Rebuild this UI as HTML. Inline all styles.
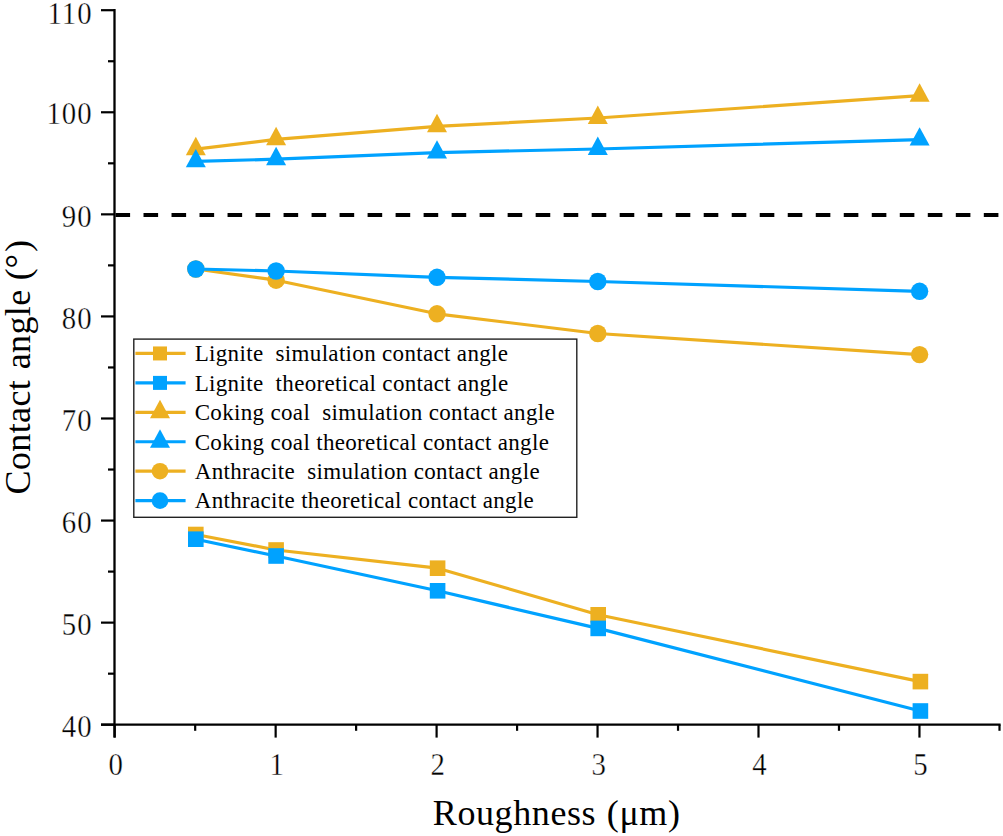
<!DOCTYPE html>
<html><head><meta charset="utf-8"><style>
html,body{margin:0;padding:0;background:#fff;}
svg{display:block;}
text{font-family:"Liberation Serif",serif;fill:#000;}
.tk{font-size:31px;letter-spacing:1.0px;stroke:#fff;stroke-width:0.35px;}
.lg{font-size:23px;letter-spacing:0.33px;}
.ti{font-size:36px;letter-spacing:0.6px;word-spacing:1px;}
.ty{font-size:36px;letter-spacing:0.4px;word-spacing:1px;}
</style></head><body>
<svg width="1003" height="836" viewBox="0 0 1003 836">
<rect width="1003" height="836" fill="#fff"/>
<line x1="114.50" y1="215.0" x2="1000.5" y2="215.0" stroke="#000" stroke-width="3.9" stroke-dasharray="14.6 13.41" stroke-dashoffset="-1.0"/>
<line x1="114.5" y1="9.0" x2="114.5" y2="737.6" stroke="#000" stroke-width="2.3"/>
<line x1="101" y1="724.7" x2="1000.6" y2="724.7" stroke="#000" stroke-width="2.3"/>
<line x1="101.0" y1="724.70" x2="114.5" y2="724.70" stroke="#000" stroke-width="2.2"/>
<line x1="108.0" y1="673.67" x2="114.5" y2="673.67" stroke="#000" stroke-width="2.2"/>
<line x1="101.0" y1="622.63" x2="114.5" y2="622.63" stroke="#000" stroke-width="2.2"/>
<line x1="108.0" y1="571.60" x2="114.5" y2="571.60" stroke="#000" stroke-width="2.2"/>
<line x1="101.0" y1="520.56" x2="114.5" y2="520.56" stroke="#000" stroke-width="2.2"/>
<line x1="108.0" y1="469.53" x2="114.5" y2="469.53" stroke="#000" stroke-width="2.2"/>
<line x1="101.0" y1="418.49" x2="114.5" y2="418.49" stroke="#000" stroke-width="2.2"/>
<line x1="108.0" y1="367.46" x2="114.5" y2="367.46" stroke="#000" stroke-width="2.2"/>
<line x1="101.0" y1="316.42" x2="114.5" y2="316.42" stroke="#000" stroke-width="2.2"/>
<line x1="108.0" y1="265.38" x2="114.5" y2="265.38" stroke="#000" stroke-width="2.2"/>
<line x1="101.0" y1="214.35" x2="114.5" y2="214.35" stroke="#000" stroke-width="2.2"/>
<line x1="108.0" y1="163.32" x2="114.5" y2="163.32" stroke="#000" stroke-width="2.2"/>
<line x1="101.0" y1="112.28" x2="114.5" y2="112.28" stroke="#000" stroke-width="2.2"/>
<line x1="108.0" y1="61.25" x2="114.5" y2="61.25" stroke="#000" stroke-width="2.2"/>
<line x1="101.0" y1="10.20" x2="114.5" y2="10.20" stroke="#000" stroke-width="2.2"/>
<line x1="114.70" y1="724.7" x2="114.70" y2="737.6" stroke="#000" stroke-width="2.2"/>
<line x1="195.18" y1="724.7" x2="195.18" y2="730.8" stroke="#000" stroke-width="2.2"/>
<line x1="275.65" y1="724.7" x2="275.65" y2="737.6" stroke="#000" stroke-width="2.2"/>
<line x1="356.12" y1="724.7" x2="356.12" y2="730.8" stroke="#000" stroke-width="2.2"/>
<line x1="436.60" y1="724.7" x2="436.60" y2="737.6" stroke="#000" stroke-width="2.2"/>
<line x1="517.08" y1="724.7" x2="517.08" y2="730.8" stroke="#000" stroke-width="2.2"/>
<line x1="597.55" y1="724.7" x2="597.55" y2="737.6" stroke="#000" stroke-width="2.2"/>
<line x1="678.02" y1="724.7" x2="678.02" y2="730.8" stroke="#000" stroke-width="2.2"/>
<line x1="758.50" y1="724.7" x2="758.50" y2="737.6" stroke="#000" stroke-width="2.2"/>
<line x1="838.98" y1="724.7" x2="838.98" y2="730.8" stroke="#000" stroke-width="2.2"/>
<line x1="919.45" y1="724.7" x2="919.45" y2="737.6" stroke="#000" stroke-width="2.2"/>
<line x1="999.50" y1="724.7" x2="999.50" y2="730.8" stroke="#000" stroke-width="2.2"/>
<polyline points="195.80,534.50 276.10,550.00 437.60,568.20 598.20,614.80 920.40,681.60" fill="none" stroke="#EDB021" stroke-width="3.2" stroke-linejoin="round"/>
<rect x="188.00" y="526.70" width="15.60" height="15.60" fill="#EDB021"/>
<rect x="268.30" y="542.20" width="15.60" height="15.60" fill="#EDB021"/>
<rect x="429.80" y="560.40" width="15.60" height="15.60" fill="#EDB021"/>
<rect x="590.40" y="607.00" width="15.60" height="15.60" fill="#EDB021"/>
<rect x="912.60" y="673.80" width="15.60" height="15.60" fill="#EDB021"/>
<polyline points="195.80,539.20 276.10,556.00 437.60,590.80 598.20,628.40 920.40,711.00" fill="none" stroke="#00A2FF" stroke-width="3.2" stroke-linejoin="round"/>
<rect x="188.00" y="531.40" width="15.60" height="15.60" fill="#00A2FF"/>
<rect x="268.30" y="548.20" width="15.60" height="15.60" fill="#00A2FF"/>
<rect x="429.80" y="583.00" width="15.60" height="15.60" fill="#00A2FF"/>
<rect x="590.40" y="620.60" width="15.60" height="15.60" fill="#00A2FF"/>
<rect x="912.60" y="703.20" width="15.60" height="15.60" fill="#00A2FF"/>
<polyline points="195.80,149.20 276.10,139.30 437.00,126.30 597.80,118.00 919.60,95.70" fill="none" stroke="#EDB021" stroke-width="3.2" stroke-linejoin="round"/>
<polygon points="195.80,136.73 185.80,155.13 205.80,155.13" fill="#EDB021"/>
<polygon points="276.10,126.83 266.10,145.23 286.10,145.23" fill="#EDB021"/>
<polygon points="437.00,113.83 427.00,132.23 447.00,132.23" fill="#EDB021"/>
<polygon points="597.80,105.53 587.80,123.93 607.80,123.93" fill="#EDB021"/>
<polygon points="919.60,83.23 909.60,101.63 929.60,101.63" fill="#EDB021"/>
<polyline points="195.80,161.40 276.10,159.20 437.00,152.60 597.80,149.00 919.60,139.60" fill="none" stroke="#00A2FF" stroke-width="3.2" stroke-linejoin="round"/>
<polygon points="195.80,148.93 185.80,167.33 205.80,167.33" fill="#00A2FF"/>
<polygon points="276.10,146.73 266.10,165.13 286.10,165.13" fill="#00A2FF"/>
<polygon points="437.00,140.13 427.00,158.53 447.00,158.53" fill="#00A2FF"/>
<polygon points="597.80,136.53 587.80,154.93 607.80,154.93" fill="#00A2FF"/>
<polygon points="919.60,127.13 909.60,145.53 929.60,145.53" fill="#00A2FF"/>
<polyline points="195.80,269.00 276.10,280.20 437.00,313.80 597.80,333.50 919.60,354.60" fill="none" stroke="#EDB021" stroke-width="3.2" stroke-linejoin="round"/>
<circle cx="195.80" cy="269.00" r="8.70" fill="#EDB021"/>
<circle cx="276.10" cy="280.20" r="8.70" fill="#EDB021"/>
<circle cx="437.00" cy="313.80" r="8.70" fill="#EDB021"/>
<circle cx="597.80" cy="333.50" r="8.70" fill="#EDB021"/>
<circle cx="919.60" cy="354.60" r="8.70" fill="#EDB021"/>
<polyline points="195.80,269.00 276.10,271.00 437.00,277.30 597.80,281.50 919.60,291.30" fill="none" stroke="#00A2FF" stroke-width="3.2" stroke-linejoin="round"/>
<circle cx="195.80" cy="269.00" r="8.70" fill="#00A2FF"/>
<circle cx="276.10" cy="271.00" r="8.70" fill="#00A2FF"/>
<circle cx="437.00" cy="277.30" r="8.70" fill="#00A2FF"/>
<circle cx="597.80" cy="281.50" r="8.70" fill="#00A2FF"/>
<circle cx="919.60" cy="291.30" r="8.70" fill="#00A2FF"/>
<rect x="133.8" y="339.1" width="443.00" height="178.20" fill="#fff" stroke="#222" stroke-width="1.4"/>
<line x1="135.4" y1="353.45" x2="185.6" y2="353.45" stroke="#EDB021" stroke-width="3.2"/>
<rect x="153.00" y="346.45" width="14.00" height="14.00" fill="#EDB021"/>
<text x="194.7" y="361.20" class="lg">Lignite  simulation contact angle</text>
<line x1="135.4" y1="382.89" x2="185.6" y2="382.89" stroke="#00A2FF" stroke-width="3.2"/>
<rect x="153.00" y="375.89" width="14.00" height="14.00" fill="#00A2FF"/>
<text x="194.7" y="390.64" class="lg">Lignite  theoretical contact angle</text>
<line x1="135.4" y1="412.33" x2="185.6" y2="412.33" stroke="#EDB021" stroke-width="3.2"/>
<polygon points="160.00,399.86 150.00,418.26 170.00,418.26" fill="#EDB021"/>
<text x="194.7" y="420.08" class="lg">Coking coal  simulation contact angle</text>
<line x1="135.4" y1="441.77" x2="185.6" y2="441.77" stroke="#00A2FF" stroke-width="3.2"/>
<polygon points="160.00,429.30 150.00,447.70 170.00,447.70" fill="#00A2FF"/>
<text x="194.7" y="449.52" class="lg">Coking coal theoretical contact angle</text>
<line x1="135.4" y1="471.21" x2="185.6" y2="471.21" stroke="#EDB021" stroke-width="3.2"/>
<circle cx="160.00" cy="471.21" r="8.30" fill="#EDB021"/>
<text x="194.7" y="478.96" class="lg">Anthracite  simulation contact angle</text>
<line x1="135.4" y1="500.65" x2="185.6" y2="500.65" stroke="#00A2FF" stroke-width="3.2"/>
<circle cx="160.00" cy="500.65" r="8.30" fill="#00A2FF"/>
<text x="194.7" y="508.40" class="lg">Anthracite theoretical contact angle</text>
<text transform="translate(92.5,736.90) scale(0.93,1)" class="tk" text-anchor="end">40</text>
<text transform="translate(92.5,634.83) scale(0.93,1)" class="tk" text-anchor="end">50</text>
<text transform="translate(92.5,532.76) scale(0.93,1)" class="tk" text-anchor="end">60</text>
<text transform="translate(92.5,430.69) scale(0.93,1)" class="tk" text-anchor="end">70</text>
<text transform="translate(92.5,328.62) scale(0.93,1)" class="tk" text-anchor="end">80</text>
<text transform="translate(92.5,226.55) scale(0.93,1)" class="tk" text-anchor="end">90</text>
<text transform="translate(92.5,124.48) scale(0.93,1)" class="tk" text-anchor="end">100</text>
<text transform="translate(92.5,23.90) scale(0.93,1)" class="tk" text-anchor="end">110</text>
<text transform="translate(116.20,775.2) scale(0.93,1)" class="tk" text-anchor="middle">0</text>
<text transform="translate(277.15,775.2) scale(0.93,1)" class="tk" text-anchor="middle">1</text>
<text transform="translate(438.10,775.2) scale(0.93,1)" class="tk" text-anchor="middle">2</text>
<text transform="translate(599.05,775.2) scale(0.93,1)" class="tk" text-anchor="middle">3</text>
<text transform="translate(760.00,775.2) scale(0.93,1)" class="tk" text-anchor="middle">4</text>
<text transform="translate(920.95,775.2) scale(0.93,1)" class="tk" text-anchor="middle">5</text>
<text x="432.8" y="824.7" class="ti">Roughness (μm)</text>
<text transform="translate(30.2,494.5) rotate(-90)" x="0" y="0" class="ty">Contact angle <tspan dx="-1.4">(</tspan><tspan dx="-0.55">°</tspan><tspan dx="1.85">)</tspan></text>
</svg>
</body></html>
